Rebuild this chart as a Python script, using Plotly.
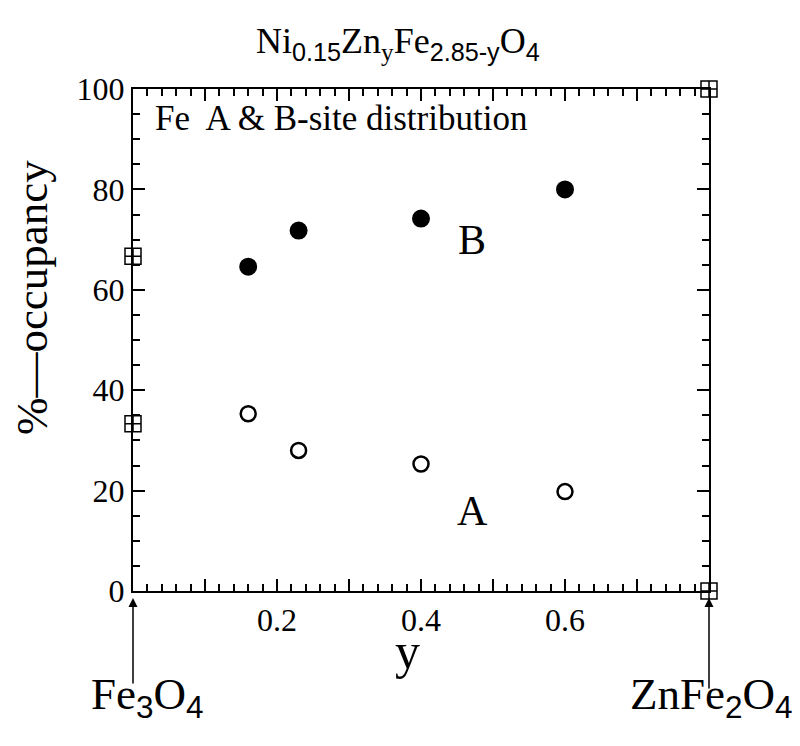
import plotly.graph_objects as go

# data
y_comp = [0.16, 0.23, 0.40, 0.60]
b_site = [64.6, 71.8, 74.2, 80.0]
a_site = [35.3, 28.0, 25.3, 19.8]
end_x = [0.0, 0.0, 0.8, 0.8]
end_y = [33.3, 66.7, 0.0, 100.0]
x_ticks = [0.2, 0.4, 0.6]
y_ticks = [0, 20, 40, 60, 80, 100]

SERIF = "Liberation Serif"
SANS = "Liberation Sans"

fig = go.Figure()
fig.add_trace(go.Scatter(x=y_comp, y=b_site, mode="markers",
                         marker=dict(symbol="circle", size=16, color="black",
                                     line=dict(color="black", width=2)),
                         error_y=dict(type="constant", value=1.2, color="black", thickness=2, width=0),
                         cliponaxis=False, showlegend=False))
fig.add_trace(go.Scatter(x=y_comp, y=a_site, mode="markers",
                         marker=dict(symbol="circle", size=15, color="white",
                                     line=dict(color="black", width=2.5)),
                         error_y=dict(type="constant", value=1.2, color="black", thickness=2, width=0),
                         cliponaxis=False, showlegend=False))
fig.add_trace(go.Scatter(x=end_x, y=end_y, mode="markers",
                         marker=dict(symbol="square-cross-open", size=16, color="black",
                                     line=dict(color="black", width=1.5)),
                         cliponaxis=False, showlegend=False))

axis_common = dict(showline=True, linecolor="black", linewidth=2, mirror="ticks",
                   ticks="inside", tickcolor="black", tickwidth=1.5, ticklen=12,
                   showgrid=False, zeroline=False,
                   tickfont=dict(family=SERIF, size=32, color="black"))

fig.update_xaxes(range=[0, 0.8], tickmode="array", tickvals=[i / 10 for i in range(9)],
                 ticktext=["" if round(i / 10, 2) not in x_ticks else f"{i/10:.1f}" for i in range(9)],
                 minor=dict(dtick=0.02, ticks="inside", ticklen=7, tickcolor="black", tickwidth=1.5),
                 **axis_common)
fig.update_yaxes(range=[0, 100], tickmode="array", tickvals=y_ticks,
                 minor=dict(dtick=5, ticks="inside", ticklen=7, tickcolor="black", tickwidth=1.5),
                 **axis_common)

sub = lambda s: f"<sub><span style='font-family:{SANS}'>{s}</span></sub>"

annotations = [
    dict(text="Ni" + sub("0.15") + "Zn<sub>y</sub>Fe" + sub("2.85-y") + "O" + sub("4"),
         x=0.46, y=1.09, xref="paper", yref="paper", showarrow=False,
         xanchor="center", yanchor="middle", font=dict(family=SERIF, size=36, color="black")),
    dict(text="Fe  A &amp; B-site distribution", x=0.035, y=0.985, xref="paper", yref="paper",
         showarrow=False, xanchor="left", yanchor="top",
         font=dict(family=SERIF, size=35, color="black")),
    dict(text="B", x=0.471, y=70, xref="x", yref="y", showarrow=False,
         xanchor="center", yanchor="middle",
         font=dict(family=SERIF, size=42, color="black")),
    dict(text="A", x=0.471, y=16, xref="x", yref="y", showarrow=False,
         xanchor="center", yanchor="middle",
         font=dict(family=SERIF, size=42, color="black")),
    dict(text="y", x=0.476, y=-0.12, xref="paper", yref="paper", showarrow=False,
         xanchor="center", yanchor="middle", font=dict(family=SERIF, size=50, color="black")),
    dict(text="%—occupancy", x=-0.174, y=0.585, xref="paper", yref="paper", showarrow=False,
         xanchor="center", yanchor="middle",
         textangle=-90, font=dict(family=SERIF, size=45, color="black")),
    dict(text="Fe" + sub("3") + "O" + sub("4"), x=0.026, y=-0.212, xref="paper", yref="paper",
         showarrow=False, xanchor="center", yanchor="middle",
         font=dict(family=SERIF, size=45, color="black")),
    dict(text="ZnFe" + sub("2") + "O" + sub("4"), x=1.005, y=-0.212, xref="paper", yref="paper",
         showarrow=False, xanchor="center", yanchor="middle",
         font=dict(family=SERIF, size=45, color="black")),
    dict(text="", x=0, y=-0.014, xref="x", yref="paper", showarrow=True, ax=0, ay=87,
         arrowhead=2, arrowsize=1.2, arrowwidth=1.5, arrowcolor="black"),
    dict(text="", x=0.8, y=-0.014, xref="x", yref="paper", showarrow=True, ax=0, ay=92,
         arrowhead=2, arrowsize=1.2, arrowwidth=1.5, arrowcolor="black"),
]

fig.update_layout(width=800, height=746, margin=dict(l=133, r=91, t=89, b=155),
                  paper_bgcolor="white", plot_bgcolor="white",
                  annotations=annotations, showlegend=False)

fig.write_html("out.html")
